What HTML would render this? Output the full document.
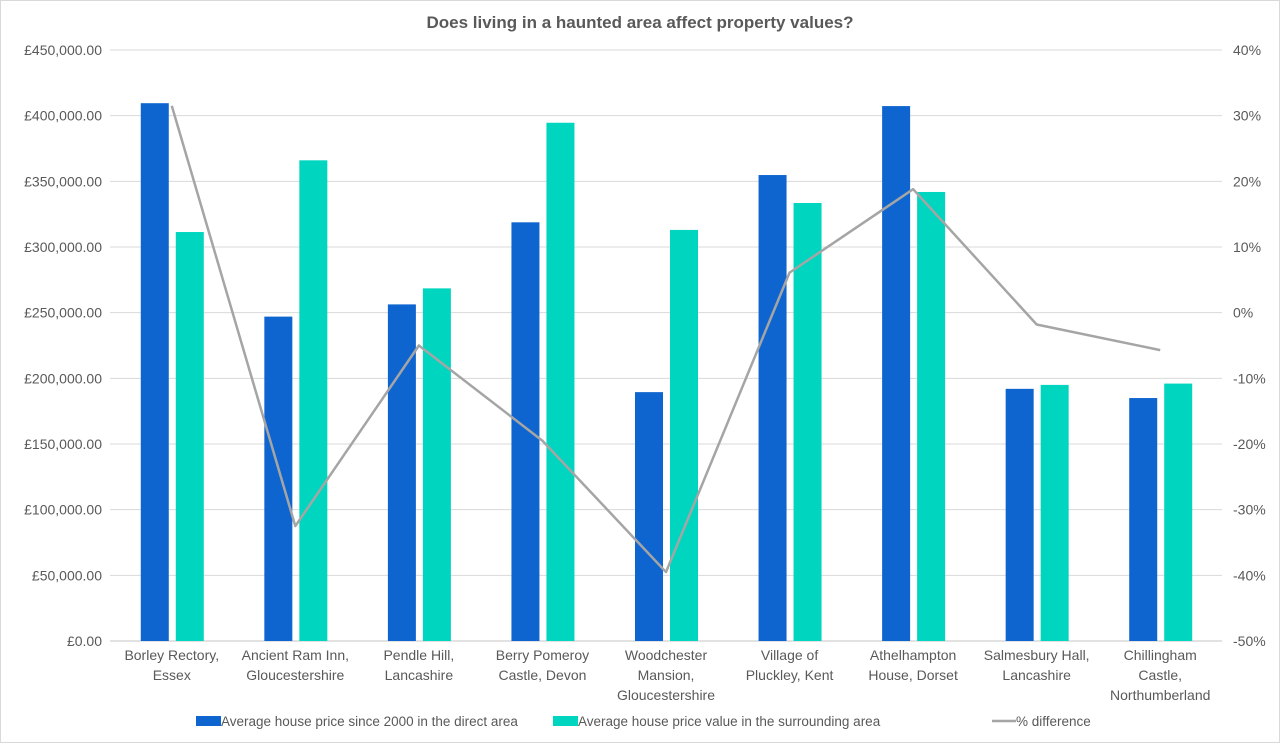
<!DOCTYPE html>
<html><head><meta charset="utf-8"><style>
body{margin:0;background:#fff;font-family:"Liberation Sans",sans-serif;}
#wrap{position:relative;width:1280px;height:743px;overflow:hidden;}
#wrap:before{content:"";position:absolute;left:0;top:0;width:1278px;height:741px;border:1px solid #d9d9d9;}
svg text{font-family:"Liberation Sans",sans-serif;fill:#595959;}
</style></head><body>
<div id="wrap">
<svg id="chart" width="1280" height="743"></svg>
</div>
<script>
const categories=[["Borley Rectory,","Essex"],["Ancient Ram Inn,","Gloucestershire"],["Pendle Hill,","Lancashire"],["Berry Pomeroy","Castle, Devon"],["Woodchester","Mansion,","Gloucestershire"],["Village of","Pluckley, Kent"],["Athelhampton","House, Dorset"],["Salmesbury Hall,","Lancashire"],["Chillingham","Castle,","Northumberland"]];
const directPrices=[409500,247000,256300,318800,189500,354800,407300,192000,185000];
const surroundPrices=[311400,366000,268500,394600,313000,333500,341900,195000,196000];
const pctDiff=[31.5,-32.5,-5.0,-19.5,-39.5,6.1,18.8,-1.8,-5.7];
const leftTicks=[0,50000,100000,150000,200000,250000,300000,350000,400000,450000];
const rightTicks=[-50,-40,-30,-20,-10,0,10,20,30,40];
const seriesNames=["Average house price since 2000 in the direct area","Average house price value in the surrounding area","% difference"];

const NS="http://www.w3.org/2000/svg";
const svg=document.getElementById('chart');
const X0=110,X1=1222,YT=50,YB=641;
const bw=(X1-X0)/categories.length;
const yL=v=>YB-(v/450000)*(YB-YT);
const yR=v=>YB-((v+50)/90)*(YB-YT);
const xc=i=>X0+bw*(i+0.5);
function mk(tag,attrs,parent){const e=document.createElementNS(NS,tag);for(const k in attrs)e.setAttribute(k,attrs[k]);(parent||svg).appendChild(e);return e;}
const fmt=v=>"£"+v.toLocaleString("en-GB",{minimumFractionDigits:2});

let t=mk('text',{x:640,y:28,'text-anchor':'middle','font-size':17,'font-weight':'bold'});
t.textContent="Does living in a haunted area affect property values?";



leftTicks.forEach(v=>{
  const l=mk('line',{x1:X0,x2:X1,y1:yL(v),y2:yL(v),stroke:'#d9d9d9','stroke-width':v===0?1.5:1});
  
  
  const tx=mk('text',{x:102,y:yL(v)+5,'text-anchor':'end','font-size':14});
  tx.textContent=fmt(v);
  
  
});
rightTicks.forEach(v=>{
  const tx=mk('text',{x:1233,y:yR(v)+5,'font-size':14});
  tx.textContent=v+"%";
  
  
});
categories.forEach((c,i)=>{
  const b1=mk('rect',{x:xc(i)-31,y:yL(directPrices[i]),width:28,height:YB-yL(directPrices[i]),fill:'#0f65cf'});
  
  
  const b2=mk('rect',{x:xc(i)+4,y:yL(surroundPrices[i]),width:28,height:YB-yL(surroundPrices[i]),fill:'#00d6bf'});
  
  
  c.forEach((ln,j)=>{
    const tx=mk('text',{x:xc(i),y:660+j*20,'text-anchor':'middle','font-size':14});
    tx.textContent=ln;
    
    
  });
});
const pl=mk('polyline',{points:pctDiff.map((v,i)=>xc(i)+','+yR(v)).join(' '),fill:'none',stroke:'#a5a5a5','stroke-width':2.5,'stroke-linejoin':'round'});



const leg=[[196,'#0f65cf','rect'],[553,'#00d6bf','rect'],[1002,'#a5a5a5','line']];
leg.forEach((L,i)=>{
  let s;
  if(L[2]==='rect') s=mk('rect',{x:L[0],y:716,width:25,height:10,fill:L[1]});
  else s=mk('line',{x1:L[0]-10,x2:L[0]+14,y1:721,y2:721,stroke:L[1],'stroke-width':2.5});
  
  
  const tx=mk('text',{x:L[0]+(L[2]==='rect'?25:14),y:726,'font-size':13.5});
  tx.textContent=seriesNames[i];
  
  
});
</script>
</body></html>
